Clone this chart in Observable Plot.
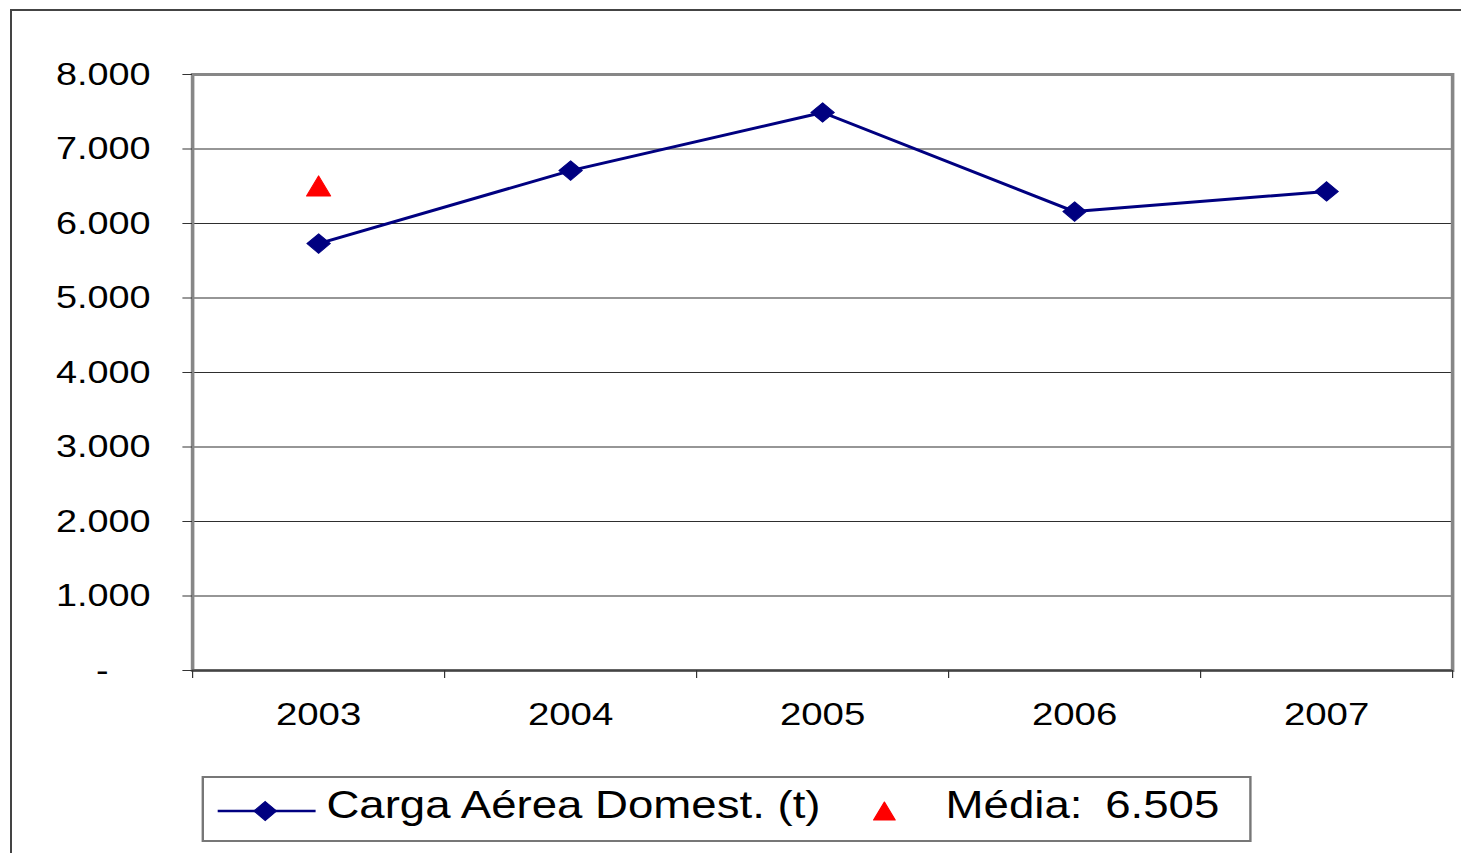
<!DOCTYPE html>
<html lang="pt">
<head>
<meta charset="utf-8">
<title>Carga Aérea Domest. (t)</title>
<script src="https://cdn.jsdelivr.net/npm/d3@7"></script>
<script src="https://cdn.jsdelivr.net/npm/@observablehq/plot@0.6"></script>
<style>
  html, body { margin: 0; padding: 0; background: #ffffff; overflow: hidden; width: 1461px; height: 853px; }
  #frame { position: absolute; left: 10px; top: 9px; width: 1500px; height: 900px;
           border-left: 2px solid #444; border-top: 2px solid #444; }
  #stage { position: absolute; left: 0; top: 0; width: 1218px; height: 853px;
           transform: scaleX(1.2); transform-origin: 0 0; }
  #chart { position: absolute; left: 0; top: 0; }
  #legendBox { position: absolute; left: 168.3px; top: 776px; width: 875px; height: 66px;
               box-sizing: border-box; border: 2px solid #777; background: #fff; }
  #legend { position: absolute; left: 168.3px; top: 776px; }
  #legend text { font-family: "Liberation Sans", Arial, sans-serif; font-size: 38px; fill: #000; }
</style>
</head>
<body>
<div id="frame"></div>
<div id="stage">
  <div id="chart"></div>
  <div id="legendBox"></div>
  <svg id="legend" width="875" height="66"></svg>
</div>
<script>
// ---- data ----
const years = [2003, 2004, 2005, 2006, 2007];
const cargas = [5730, 6710, 7490, 6160, 6430];
const media = 6505;
const yTicks = [0, 1000, 2000, 3000, 4000, 5000, 6000, 7000, 8000];
const gridValues = [1000, 2000, 3000, 4000, 5000, 6000, 7000];
const seriesLabel = "Carga Aérea Domest. (t)";
const mediaLabel = "Média:";

const data = years.map((year, i) => ({year, carga: cargas[i]}));
const mediaData = [{year: years[0], media}];
const bandEdges = years.map(y => y - 0.5).concat([years[years.length - 1] + 0.5]);

const locale = d3.formatLocale({decimal: ",", thousands: ".", grouping: [3], currency: ["", ""]});
const fmt = locale.format(",.0f");

const navy = "#000080";
const red = "#ff0000";

const triangleSymbol = {
  draw(context) {
    context.moveTo(0, -10);
    context.lineTo(10, 10);
    context.lineTo(-10, 10);
    context.closePath();
  }
};

const chart = Plot.plot({
  width: 1218,
  height: 760,
  marginLeft: 160,
  marginRight: 8,
  marginTop: 74,
  marginBottom: 90,
  style: {
    fontFamily: "'Liberation Sans', Arial, sans-serif",
    fontSize: "31.5px",
    color: "#000",
    background: "transparent",
    overflow: "visible"
  },
  x: {type: "linear", domain: [bandEdges[0], bandEdges[bandEdges.length - 1]], label: null},
  y: {domain: [0, 8000], label: null},
  marks: [
    Plot.gridY(gridValues, {stroke: "#2e2e2e", strokeOpacity: 1, strokeWidth: 1.2}),
    Plot.frame({stroke: "#878787", strokeWidth: 3}),
    Plot.ruleY([0], {stroke: "#444", strokeWidth: 2}),
    Plot.axisY(yTicks, {
      tickSize: 8, tickPadding: 27, stroke: "#333", strokeWidth: 1,
      tickFormat: d => d === 0 ? "-\u00a0\u00a0\u00a0\u00a0" : fmt(d)
    }),
    Plot.axisX(years, {tickSize: 0, tickPadding: 32, tickFormat: d => String(d), fontSize: 32}),
    Plot.axisX(bandEdges, {tickSize: 8, tickFormat: () => "", stroke: "#333", strokeWidth: 1}),
    Plot.line(data, {x: "year", y: "carga", stroke: navy, strokeWidth: 3}),
    Plot.dot(data, {x: "year", y: "carga", symbol: "diamond2", r: 8.7, fill: navy, stroke: navy, strokeWidth: 1}),
    Plot.dot(mediaData, {x: "year", y: "media", symbol: triangleSymbol, r: 10, fill: red, stroke: red, strokeWidth: 1, strokeLinejoin: "round"})
  ]
});
document.getElementById("chart").appendChild(chart);

// ---- legend (below the chart) ----
const lg = d3.select("#legend");
lg.append("line").attr("x1", 13.4).attr("x2", 95).attr("y1", 35).attr("y2", 35)
  .attr("stroke", navy).attr("stroke-width", 2.5);
lg.append("path").attr("transform", "translate(53,35)")
  .attr("d", d3.symbol(d3.symbolDiamond2, 8.5 * 8.5 * Math.PI)())
  .attr("fill", navy).attr("stroke", navy).attr("stroke-width", 1);
lg.append("text").attr("x", 104).attr("y", 42).text(seriesLabel);
lg.append("path").attr("transform", "translate(569,35)")
  .attr("d", "M0,-9L9,9L-9,9Z")
  .attr("fill", red).attr("stroke", red).attr("stroke-width", 1).attr("stroke-linejoin", "round");
lg.append("text").attr("x", 620).attr("y", 42).text(mediaLabel);
lg.append("text").attr("x", 753).attr("y", 42).text(fmt(media));
</script>
</body>
</html>
